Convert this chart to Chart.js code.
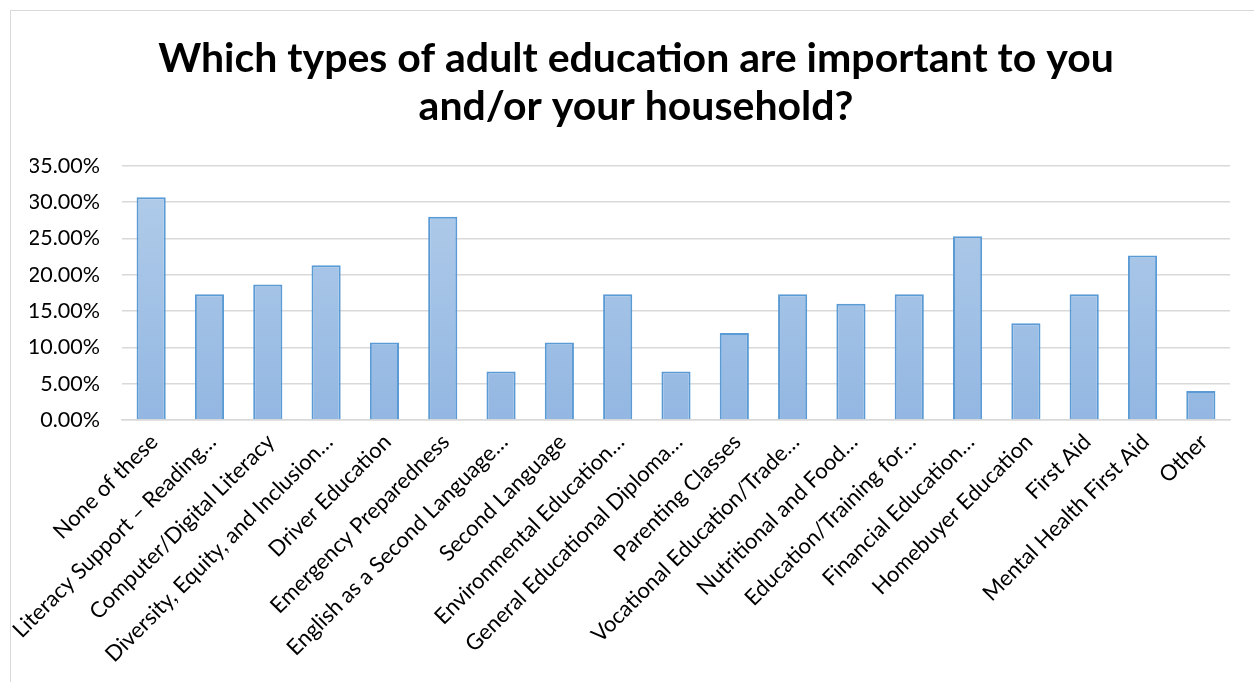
<!DOCTYPE html>
<html>
<head>
<meta charset="utf-8">
<script src="https://cdn.jsdelivr.net/npm/chart.js@4"></script>
<style>
  body { margin: 0; background: #fff; }
  #frame { position: absolute; left: 10px; top: 10px; width: 1300px; height: 700px;
           border-left: 1.5px solid #d9d9d9; border-top: 1.5px solid #d9d9d9; }
  #wrap { position: absolute; left: 0; top: 0; width: 1254px; height: 682px; }
</style>
</head>
<body>
<div id="frame"></div>
<div id="wrap"><canvas id="myChart" width="1254" height="682"></canvas></div>
<script>
let categories = [
    'None of these',
    'Literacy Support – Reading…',
    'Computer/Digital Literacy',
    'Diversity, Equity, and Inclusion…',
    'Driver Education',
    'Emergency Preparedness',
    'English as a Second Language…',
    'Second Language',
    'Environmental Education…',
    'General Educational Diploma…',
    'Parenting Classes',
    'Vocational Education/Trade…',
    'Nutritional and Food…',
    'Education/Training for…',
    'Financial Education…',
    'Homebuyer Education',
    'First Aid',
    'Mental Health First Aid',
    'Other'
]
let percents = [30.67, 17.33, 18.67, 21.33, 10.67, 28.00, 6.67, 10.67, 17.33, 6.67,
                12.00, 17.33, 16.00, 17.33, 25.33, 13.33, 17.33, 22.67, 4.00]
let yTicks = [0, 5, 10, 15, 20, 25, 30, 35]

let titleLines = ['Which types of adult education are important to you', 'and/or your household?']
let font = 'Lato, "Open Sans", sans-serif'

function barFill(ctx)
{
    let chart = ctx.chart
    let area = chart.chartArea
    if (!area) return '#a4c2e8'
    let g = chart.ctx.createLinearGradient(0, area.top, 0, area.bottom)
    g.addColorStop(0, '#b3cdea')
    g.addColorStop(1, '#93b7e2')
    return g
}

var chart = new Chart('myChart', {
    type: 'bar',
    data: {
        labels: categories,
        datasets: [{
            label: 'Percent',
            data: percents,
            backgroundColor: barFill,
            borderColor: '#5b9bd5',
            borderWidth: 2,
            barPercentage: 0.5,
            categoryPercentage: 1
        }]
    },
    options: {
        responsive: false,
        animation: false,
        layout: { padding: { left: 30, right: 12, top: 0, bottom: 0 } },
        plugins: {
            legend: { display: false },
            tooltip: { enabled: false },
            title: {
                display: true,
                text: titleLines,
                color: '#000',
                font: { family: font, size: 41, weight: 'bold', lineHeight: 1.17 },
                padding: { top: 35, bottom: 35 }
            }
        },
        scales: {
            x: {
                grid: { display: false, drawTicks: false },
                border: { color: '#d9d9d9', width: 1.5 },
                ticks: {
                    color: '#000',
                    font: { family: font, size: 22 },
                    minRotation: 45,
                    maxRotation: 45,
                    autoSkip: false,
                    padding: 9,
                    labelOffset: 3
                },
                afterFit: (s) => { s.height = 262 }
            },
            y: {
                min: 0,
                max: 35,
                afterBuildTicks: (s) => { s.ticks = yTicks.map(v => ({ value: v })) },
                grid: { color: '#d9d9d9', lineWidth: 1.5, drawTicks: false },
                border: { display: false },
                ticks: {
                    color: '#000',
                    font: { family: font, size: 21.5 },
                    padding: 22,
                    callback: (v) => v.toFixed(2) + '%'
                },
                afterFit: (s) => { s.width = 92 }
            },
            // empty right-hand axis, only keeps the plot edge at the same place
            yRight: {
                position: 'right',
                grid: { display: false, drawTicks: false },
                border: { display: false },
                ticks: { display: false },
                afterFit: (s) => { s.width = 12 }
            }
        }
    }
})
</script>
</body>
</html>
